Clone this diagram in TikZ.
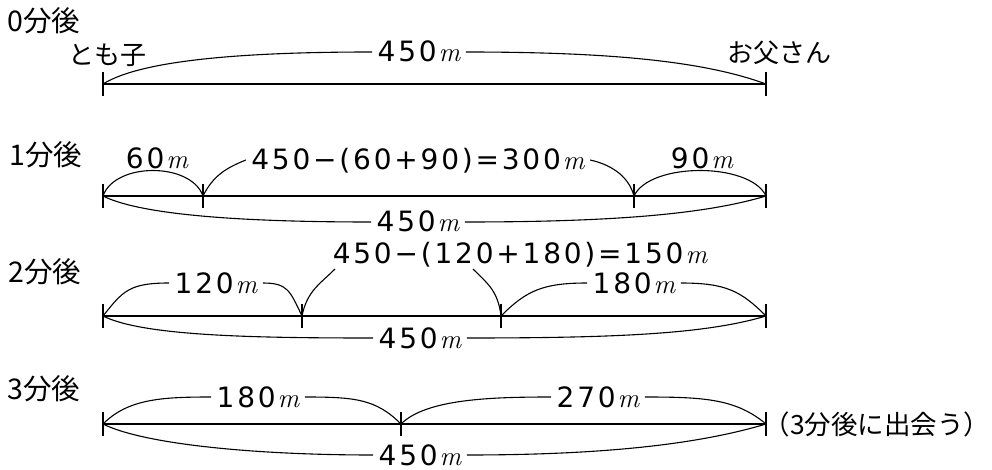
\documentclass[tikz,border=0pt]{standalone}
\usepackage{fontspec}
\usepackage{amsmath}
\newfontfamily\jpfont{Noto Sans CJK JP}
\newfontfamily\numfont[LetterSpace=10]{DejaVu Sans}
\newfontfamily\mfont{Latin Modern Roman}
\newcommand{\unitm}{\kern2pt{\mfont\itshape\fontsize{27}{27}\selectfont m}}
\tikzset{
  lenlabel/.style={inner xsep=5pt, inner ysep=0pt, text height=20pt, text depth=0pt,
    font=\numfont\fontsize{28}{30}\selectfont},
  jplabel/.style={inner sep=0pt, font=\jpfont\fontsize{26}{28}\selectfont},
  rowlabel/.style={inner sep=0pt, font=\jpfont\fontsize{28.5}{30}\selectfont},
}

\begin{document}
\begin{tikzpicture}[x=1pt,y=-1pt,line width=1.1pt]
\useasboundingbox (0,0) rectangle (992,470);

\coordinate (a0) at (103,84);
\coordinate (b0) at (766,84);
\coordinate (a1) at (103,196);
\coordinate (p1) at (203,196);
\coordinate (q1) at (634,196);
\coordinate (b1) at (766,196);
\coordinate (a2) at (103,316);
\coordinate (p2) at (302,316);
\coordinate (q2) at (501,316);
\coordinate (b2) at (766,316);
\coordinate (a3) at (103,424);
\coordinate (p3) at (401,424);
\coordinate (b3) at (766,424);

\node[rowlabel] (t0) at (44,21) {0分後};
\node[rowlabel] (t1) at (46,155) {1分後};
\node[rowlabel] (t2) at (45,272) {2分後};
\node[rowlabel] (t3) at (44,389) {3分後};

\node[jplabel] (s0) at (107,55) {とも子};
\node[jplabel] (f0) at (779,53) {お父さん};
\node[jplabel, font=\jpfont\fontsize{26.5}{28}\selectfont] (m3) at (877,424) {（3分後に出会う）};

\node[lenlabel] (d0) at (419,52) {450\unitm};
\node[lenlabel] (d1a) at (157,159) {60\unitm};
\node[lenlabel] (d1b) at (418,160) {450−(60+90)=300\unitm};
\node[lenlabel] (d1c) at (702,159) {90\unitm};
\node[lenlabel] (d1d) at (418,222) {450\unitm};
\node[lenlabel] (d2a) at (216,283) {120\unitm};
\node[lenlabel] (d2b) at (520,253) {450−(120+180)=150\unitm};
\node[lenlabel] (d2c) at (634,283) {180\unitm};
\node[lenlabel] (d2d) at (420,338) {450\unitm};
\node[lenlabel] (d3a) at (258,397) {180\unitm};
\node[lenlabel] (d3b) at (598,397) {270\unitm};
\node[lenlabel] (d3c) at (420,455) {450\unitm};

\coordinate (e2) at ([shift={(-185,16)}]d2b.center);
\coordinate (g2) at ([shift={(-47,16)}]d2b.center);

% lines and ticks
\draw (a0) -- (b0);
\draw (a1) -- (b1);
\draw (a2) -- (b2);
\draw (a3) -- (b3);
\foreach \p in {a0,b0,a1,p1,q1,b1,a2,p2,q2,b2,a3,p3,b3}
  \draw (\p) ++(0,-12) -- ++(0,24);

% 0
\draw (a0) .. controls +(40,-25) and +(-120,0) .. (d0.west);
\draw (d0.east) .. controls +(150,0) and +(-60,-22) .. (b0);

% 1
\draw (a1) .. controls +(12,-34) and +(-12,-34) .. (p1);
\draw (p1) .. controls +(10,-20) and +(-20,8) .. (d1b.west);
\draw (d1b.east) .. controls +(18,4) and +(-6,-22) .. (q1);
\draw (q1) .. controls +(16,-34) and +(-16,-34) .. (b1);
\draw (a1) .. controls +(40,20) and +(-120,0) .. (d1d.west);
\draw (d1d.east) .. controls +(150,0) and +(-60,18) .. (b1);

% 2
\draw (a2) .. controls +(20,-25) and +(-40,0) .. (d2a.west);
\draw (d2a.east) .. controls +(25,0) and +(-12,-25) .. (p2);
\draw (p2) .. controls +(5,-25) and +(-15,15) .. (e2);
\draw (q2) .. controls +(-3,-25) and +(15,15) .. (g2);
\draw (q2) .. controls +(25,-25) and +(-45,0) .. (d2c.west);
\draw (d2c.east) .. controls +(45,0) and +(-25,-25) .. (b2);
\draw (a2) .. controls +(40,20) and +(-120,0) .. (d2d.west);
\draw (d2d.east) .. controls +(150,0) and +(-60,18) .. (b2);

% 3
\draw (a3) .. controls +(25,-25) and +(-50,0) .. (d3a.west);
\draw (d3a.east) .. controls +(50,0) and +(-25,-25) .. (p3);
\draw (p3) .. controls +(25,-25) and +(-60,0) .. (d3b.west);
\draw (d3b.east) .. controls +(60,0) and +(-30,-25) .. (b3);
\draw (a3) .. controls +(40,20) and +(-120,0) .. (d3c.west);
\draw (d3c.east) .. controls +(150,0) and +(-60,18) .. (b3);
\end{tikzpicture}
\end{document}
